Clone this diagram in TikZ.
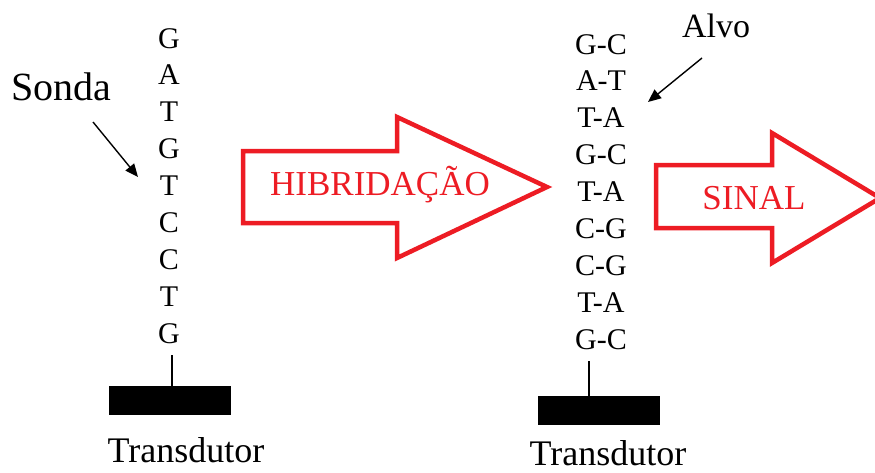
\documentclass[tikz,border=0pt]{standalone}
\usepackage{fontspec}
\setmainfont{Liberation Serif}
\usetikzlibrary{arrows.meta}
\definecolor{sigred}{RGB}{237,28,36}
\tikzset{
  base/.style={inner sep=0pt, anchor=base, text=black},
  nt/.style={base, font=\fontsize{30}{36}\selectfont},
  lbl/.style={base, font=\fontsize{#1}{#1}\selectfont},
  bigarrow/.style={draw=sigred, fill=white, line width=4.5pt, line join=miter},
  arrowtext/.style={inner sep=0pt, anchor=base, text=sigred, font=\fontsize{35}{40}\selectfont},
  pointer/.style={line width=1.4pt, -{Triangle[length=13pt,width=11pt]}},
  stem/.style={line width=1.5pt},
  plate/.style={fill=black, draw=none, minimum width=122pt, minimum height=29pt, inner sep=0pt}
}
\begin{document}
\begin{tikzpicture}[x=1pt,y=-1pt]
\useasboundingbox (0,0) rectangle (875,472);
\clip (0,0) rectangle (875,472);

% probe strand
\foreach \b [count=\i] in {G,A,T,G,T,C,C,T,G}
  \node[nt] (p\i) at (169,{48+(\i-1)*36.9}) {\b};

% hybridised duplex
\foreach \b [count=\i] in {G-C,A-T,T-A,G-C,T-A,C-G,C-G,T-A,G-C}
  \node[nt] (d\i) at (601,{54+(\i-1)*36.9}) {\b};

% labels
\node[lbl=40] (sonda) at (61,100) {Sonda};
\node[lbl=34] (alvo) at (716,37) {Alvo};
\coordinate (sondaTail) at (93,122);
\coordinate (sondaTip) at (138,177);
\coordinate (alvoTail) at (702,58);
\coordinate (alvoTip) at (648,102);
\draw[pointer] (sondaTail) -- (sondaTip);
\draw[pointer] (alvoTail) -- (alvoTip);

% transducers
\node[plate] (plate1) at (170,400.5) {};
\node[plate] (plate2) at (599,410.5) {};
\coordinate (stem1) at (172,355);
\coordinate (stem2) at (589,361);
\draw[stem] (stem1) -- (stem1 |- plate1.north);
\draw[stem] (stem2) -- (stem2 |- plate2.north);
\node[lbl=36] (trans1) at (186,462) {Transdutor};
\node[lbl=36] (trans2) at (608,465) {Transdutor};

% process arrows
\draw[bigarrow] (243,151) -- (397,151) -- (397,117) -- (547,187) -- (397,258) -- (397,223) -- (243,223) -- cycle;
\node[arrowtext] (hib) at (380,195) {HIBRIDAÇÃO};
\draw[bigarrow] (656,165) -- (772,165) -- (772,133) -- (880,198) -- (772,263) -- (772,228) -- (656,228) -- cycle;
\node[arrowtext] (sinal) at (754,209) {SINAL};
\end{tikzpicture}
\end{document}
